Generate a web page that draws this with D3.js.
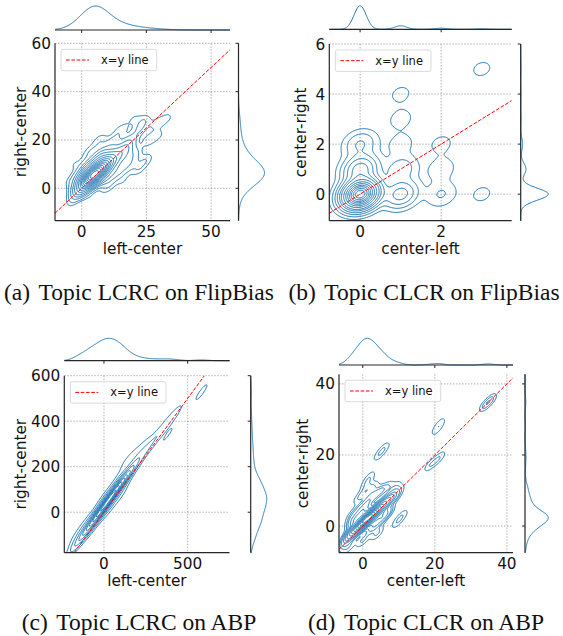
<!DOCTYPE html>
<html>
<head>
<meta charset="utf-8">
<script src="https://cdn.jsdelivr.net/npm/d3@7"></script>
<style>
  body { margin: 0; background: #fff; }
  text { font-family: "DejaVu Sans", sans-serif; fill: #111; }
  text.cap { font-family: "Liberation Serif", "Times New Roman", serif; }
</style>
</head>
<body>
<svg id="fig" width="563" height="636"></svg>
<script>
// ---- data: [left value, right value, count] ----
var lcrcFlip = [
  // core
  [1,1,6],[2,3,8],[3,4,10],[4,5,12],[5,6,12],[6,7,11],[7,8,9],[8,9,7],[9,10,6],[4,3,6],
  [6,5,6],[2,5,5],[4,8,5],[7,6,5],[10,9,4],[8,12,3],[0,-1,4],[-2,-2,2],
  // middle
  [10,12,4],[12,11,4],[13,15,3],[15,13,3],[17,16,3],[18,19,2.5],[10,4,3],[14,7,3],[18,10,2.5],
  [6,12,3],[2,9,3],[-1,5,2],[-2,1,2],[8,15,2.5],[12,19,2],[20,14,2],
  // outer
  [22,8,1.5],[25,12,1.5],[26,20,1.5],[22,24,1.5],[24,28,1.5],[20,29,1],[29,27,1.2],[33,29,1.2],
  [30,22,1],[3,15,1.5],[-3,10,1],[7,20,1.5],[15,24,1.5],[-4,-6,1],[4,-5,1],[10,0,1.2],[16,3,1],[-5,3,0.8]
];
var clcrFlip = [
  [0,0,100],[1,0,10],[0,1,16],[1,1,4],[0,2,5],[2,0,2.5],[2,1,1.8],[1,2,1.5],
  [2,2,1.3],[1,3,1.4],[1,4,1.2],[3,5,1.2],[3,0,1.2]
];
var lcrcAbp = [
  [-175,-150,1.5],[-155,-130,2],[-135,-110,2.5],[-115,-90,3.5],[-95,-70,4.5],[-75,-50,5.5],
  [-55,-30,6.5],[-35,-10,7.5],[-15,10,8.5],[5,30,9],[25,50,9.5],[45,70,9.5],[65,90,9],
  [85,110,8],[105,130,6.5],[125,150,5],[145,170,3.5],[165,190,2.5],[185,210,2],
  [-160,-100,1.5],[-100,-40,1.5],[-60,-50,1.5],[0,60,2],[30,20,2],[80,140,1.5],[100,80,1.5],
  [210,235,1.4],[240,262,1.2],[270,290,1.1],[300,320,1],[330,345,0.9],[360,375,0.9],
  [390,405,0.8],[420,430,0.7],[450,450,0.6],
  [130,220,1],[170,245,1],[210,270,0.9],[250,300,0.8],
  [330,290,0.5],[380,340,0.6],[410,370,0.5],
  [565,510,0.8],[600,545,0.8]
];
var clcrAbp = [
  [-5,-5,1],[-4,-3,2],[-3,-2,3],[-2,-1,5],[-1,0,7],[0,1,9],[1,2,10],[2,2.5,10],[3,3.5,8],
  [4,4,6],[5,5.5,4],[6,6,3],[7,7.5,2],[8,8,1.5],
  [-2,2,2],[0,4,2],[3,0,2],[5,2,1.5],[-3,1,1],[1,6,1.5],[2,8,1.2],[4,9,1],[-1,5,1],[6,3,1.2],
  [-3,3,0.8],[-1,8,0.8],[1,10,0.9],[1,12,0.7],[2,14,0.6],[3,11,0.7],[5,10,0.8],[7,11,0.7],
  [9,11,0.7],[10,10,0.6],[9,8,0.8],[7,4,1],[4,-2,1],[0,-4,1],[-4,-6,0.8],
  [9.5,1,0.7],[11,3,0.7],[4.5,20,0.7],[6,22,0.7],[20.5,27,0.6],[21.5,29,0.6],
  [18.5,17,0.65],[20,18,0.45],[21.5,19.5,0.65],[34,34,0.9],[35.5,35.5,0.9]
];

// ---- axes: ticks, limits, labels ----
var xTicksA = [0, 25, 50],  yTicksA = [0, 20, 40, 60];
var xTicksB = [0, 2],       yTicksB = [0, 2, 4, 6];
var xTicksC = [0, 500],     yTicksC = [0, 200, 400, 600];
var xTicksD = [0, 20, 40],  yTicksD = [0, 20, 40];
var xLimA = [-10.3, 57.3], yLimA = [-13.4, 60];
var xLimB = [-0.76, 3.74], yLimB = [-1.06, 6];
var xLimC = [-237, 750],   yLimC = [-178, 600];
var xLimD = [-6.6, 41.7],  yLimD = [-7.5, 42.7];
var xLabels = ["left-center", "center-left", "left-center", "center-left"];
var yLabels = ["right-center", "center-right", "right-center", "center-right"];
var capTags = ["(a)", "(b)", "(c)", "(d)"];
var capTexts = ["Topic LCRC on FlipBias", "Topic CLCR on FlipBias", "Topic LCRC on ABP", "Topic CLCR on ABP"];
var legendText = "x=y line";

var blue = "#1f77b4";
var svg = d3.select("#fig");

// kernel: [sx, sy, rho] in data units, marg: 1d bandwidths [bx, by]
var panels = [
  {pts: lcrcFlip, xt: xTicksA, yt: yTicksA, xl: xLimA, yl: yLimA, box: [55, 230, 43.3, 220.7],
   kernel: [2.3, 2.3, 0.45], marg: [4.5, 4], levels: 16,
   topM: 30, topPeak: 24, rightM: 238.5, rightPeak: 26, ylabX: 25.5, capX: 139, capY: 300},
  {pts: clcrFlip, xt: xTicksB, yt: yTicksB, xl: xLimB, yl: yLimB, box: [329.3, 511.7, 44, 220.7],
   kernel: [0.25, 0.33, 0.2], marg: [0.15, 0.24], levels: 14,
   topM: 29.3, topPeak: 23.5, rightM: 520.7, rightPeak: 27.5, ylabX: 306, capX: 424, capY: 300},
  {pts: lcrcAbp, xt: xTicksC, yt: yTicksC, xl: xLimC, yl: yLimC, box: [64.3, 229.5, 375.7, 552.7],
   kernel: [36, 36, 0.88], marg: [36, 26], levels: 11,
   topM: 360.7, topPeak: 22.4, rightM: 250.7, rightPeak: 16, ylabX: 25.5, capX: 139, capY: 630},
  {pts: clcrAbp, xt: xTicksD, yt: yTicksD, xl: xLimD, yl: yLimD, box: [339, 513, 374.3, 552.7],
   kernel: [1.3, 1.4, 0.7], marg: [1.4, 1.4], levels: 14,
   topM: 365, topPeak: 26.7, rightM: 525, rightPeak: 23.3, ylabX: 308, capX: 426, capY: 630}
];

// gaussian kde on a pixel grid (cell = 1px), kernel covariance given by [sx, sy, rho]
function kdeGrid(pts, k, x, y, w, h, pad) {
  var sx = k[0], sy = k[1], r = k[2];
  var det = sx * sx * sy * sy * (1 - r * r);
  var ia = sy * sy / det, ib = -r * sx * sy / det, ic = sx * sx / det;
  var nx = Math.ceil(w + 2 * pad), ny = Math.ceil(h + 2 * pad);
  var vals = new Array(nx * ny);
  for (var j = 0; j < ny; j++) {
    var dy = y.invert(j + 0.5 - pad);
    for (var i = 0; i < nx; i++) {
      var dx = x.invert(i + 0.5 - pad), s = 0;
      for (var p = 0; p < pts.length; p++) {
        var u = dx - pts[p][0], v = dy - pts[p][1];
        var q = ia * u * u + 2 * ib * u * v + ic * v * v;
        if (q < 40) s += pts[p][2] * Math.exp(-0.5 * q);
      }
      vals[j * nx + i] = s;
    }
  }
  return {nx: nx, ny: ny, vals: vals};
}

// iso-proportion levels (lowest contour holds 95% of the mass)
function isoLevels(vals, L, thresh) {
  var sorted = vals.slice().sort(function(a, b){ return b - a; });
  var total = d3.sum(sorted), c = 0;
  var cums = sorted.map(function(v){ c += v; return c / total; });
  return d3.range(L - 1).map(function(k){
    var q = thresh + (1 - thresh) * k / (L - 1);
    var idx = d3.bisectLeft(cums, 1 - q);
    return sorted[Math.min(idx, sorted.length - 1)];
  });
}

function margCurve(vals, wts, scale, n, bwPx) {
  return d3.range(0, n + 0.5, 0.5).map(function(p){
    var s = 0;
    for (var i = 0; i < vals.length; i++) {
      var z = (p - scale(vals[i])) / bwPx;
      s += wts[i] * Math.exp(-0.5 * z * z);
    }
    return [p, s];
  });
}

panels.forEach(function(P, i){
  var x0 = P.box[0], x1 = P.box[1], y0 = P.box[2], y1 = P.box[3];
  var w = x1 - x0, h = y1 - y0;
  var x = d3.scaleLinear().domain(P.xl).range([0, w]);
  var y = d3.scaleLinear().domain(P.yl).range([h, 0]);

  var g = svg.append("g").attr("transform", "translate(" + x0 + "," + y0 + ")");

  svg.append("clipPath").attr("id", "clip" + i)
    .append("rect").attr("width", w).attr("height", h);

  // grid
  g.selectAll(".gx").data(P.xt).enter().append("line")
    .attr("x1", function(d){ return x(d); }).attr("x2", function(d){ return x(d); })
    .attr("y1", 0).attr("y2", h)
    .attr("stroke", "#a0a0a0").attr("stroke-width", 0.8).attr("stroke-dasharray", "1.5,1.5");
  g.selectAll(".gy").data(P.yt).enter().append("line")
    .attr("y1", function(d){ return y(d); }).attr("y2", function(d){ return y(d); })
    .attr("x1", 0).attr("x2", w)
    .attr("stroke", "#a0a0a0").attr("stroke-width", 0.8).attr("stroke-dasharray", "1.5,1.5");

  // density contours
  var pad = 30;
  var grid = kdeGrid(P.pts, P.kernel, x, y, w, h, pad);
  var lv = isoLevels(grid.vals, P.levels, 0.05);
  var geoms = d3.contours().size([grid.nx, grid.ny]).thresholds(lv)(grid.vals);
  g.append("g").attr("clip-path", "url(#clip" + i + ")")
    .append("g").attr("transform", "translate(" + (-pad) + "," + (-pad) + ")")
    .selectAll("path").data(geoms).enter().append("path")
    .attr("d", d3.geoPath())
    .attr("fill", "none").attr("stroke", blue).attr("stroke-width", 1)
    .attr("stroke-linejoin", "round");

  // x=y line
  var lo = Math.max(P.xl[0], P.yl[0]), hi = Math.min(P.xl[1], P.yl[1]);
  g.append("line").attr("clip-path", "url(#clip" + i + ")")
    .attr("x1", x(lo)).attr("y1", y(lo)).attr("x2", x(hi)).attr("y2", y(hi))
    .attr("stroke", "red").attr("stroke-width", 1).attr("stroke-dasharray", "3.7,1.6");

  // spines
  g.append("line").attr("x1", 0).attr("x2", 0).attr("y1", 0).attr("y2", h)
    .attr("stroke", "#262626").attr("stroke-width", 1.2);
  g.append("line").attr("x1", 0).attr("x2", w).attr("y1", h).attr("y2", h)
    .attr("stroke", "#262626").attr("stroke-width", 1.2);

  // tick labels
  g.selectAll(".tx").data(P.xt).enter().append("text")
    .attr("x", function(d){ return x(d); }).attr("y", h + 16.6)
    .attr("text-anchor", "middle").attr("font-size", 15.3).text(function(d){ return d; });
  g.selectAll(".ty").data(P.yt).enter().append("text")
    .attr("x", -4).attr("y", function(d){ return y(d) + 5.5; })
    .attr("text-anchor", "end").attr("font-size", 15.3).text(function(d){ return d; });

  // axis labels
  g.append("text").attr("x", w / 2).attr("y", h + 33.5).attr("text-anchor", "middle")
    .attr("font-size", 15.3).text(xLabels[i]);
  svg.append("text").attr("transform", "translate(" + P.ylabX + "," + (y0 + h / 2) + ") rotate(-90)")
    .attr("text-anchor", "middle").attr("font-size", 15.3).text(yLabels[i]);

  // legend
  var lg = g.append("g").attr("transform", "translate(6,6)");
  lg.append("rect").attr("width", 95.7).attr("height", 21.4).attr("rx", 2)
    .attr("fill", "#fff").attr("fill-opacity", 0.8).attr("stroke", "#d0d0d0").attr("stroke-width", 0.8);
  lg.append("line").attr("x1", 5).attr("x2", 28).attr("y1", 10.7).attr("y2", 10.7)
    .attr("stroke", "red").attr("stroke-width", 1).attr("stroke-dasharray", "3.7,1.6");
  lg.append("text").attr("x", 40).attr("y", 14.6).attr("font-size", 11.5).text(legendText);

  // top marginal
  var xv = P.pts.map(function(d){ return d[0]; }), yv = P.pts.map(function(d){ return d[1]; });
  var wt = P.pts.map(function(d){ return d[2]; });
  var mt = margCurve(xv, wt, x, w, Math.abs(x(P.marg[0]) - x(0)));
  var mtS = d3.scaleLinear().domain([0, d3.max(mt, function(d){ return d[1]; })]).range([0, P.topPeak]);
  var gt = svg.append("g").attr("transform", "translate(" + x0 + "," + P.topM + ")");
  gt.append("path").datum(mt)
    .attr("d", d3.line().x(function(d){ return d[0]; }).y(function(d){ return -mtS(d[1]); }))
    .attr("fill", "none").attr("stroke", blue).attr("stroke-width", 1);
  gt.append("line").attr("x1", 0).attr("x2", w).attr("stroke", "#262626").attr("stroke-width", 1.2);
  gt.selectAll(".tk").data(P.xt).enter().append("line")
    .attr("x1", function(d){ return x(d); }).attr("x2", function(d){ return x(d); })
    .attr("y1", 0).attr("y2", 3).attr("stroke", "#262626").attr("stroke-width", 1);

  // right marginal
  var mr = margCurve(yv, wt, y, h, Math.abs(y(P.marg[1]) - y(0)));
  var mrS = d3.scaleLinear().domain([0, d3.max(mr, function(d){ return d[1]; })]).range([0, P.rightPeak]);
  var gr = svg.append("g").attr("transform", "translate(" + P.rightM + "," + y0 + ")");
  gr.append("path").datum(mr)
    .attr("d", d3.line().x(function(d){ return mrS(d[1]); }).y(function(d){ return d[0]; }))
    .attr("fill", "none").attr("stroke", blue).attr("stroke-width", 1);
  gr.append("line").attr("y1", 0).attr("y2", h).attr("stroke", "#262626").attr("stroke-width", 1.2);
  gr.selectAll(".tk").data(P.yt).enter().append("line")
    .attr("y1", function(d){ return y(d); }).attr("y2", function(d){ return y(d); })
    .attr("x1", -3).attr("x2", 0).attr("stroke", "#262626").attr("stroke-width", 1);

  // caption
  var cap = svg.append("text").attr("class", "cap").attr("x", P.capX).attr("y", P.capY)
    .attr("text-anchor", "middle").attr("font-size", 23.5);
  cap.append("tspan").text(capTags[i]);
  cap.append("tspan").attr("dx", "0.36em").text(capTexts[i]);
});
</script>
</body>
</html>
